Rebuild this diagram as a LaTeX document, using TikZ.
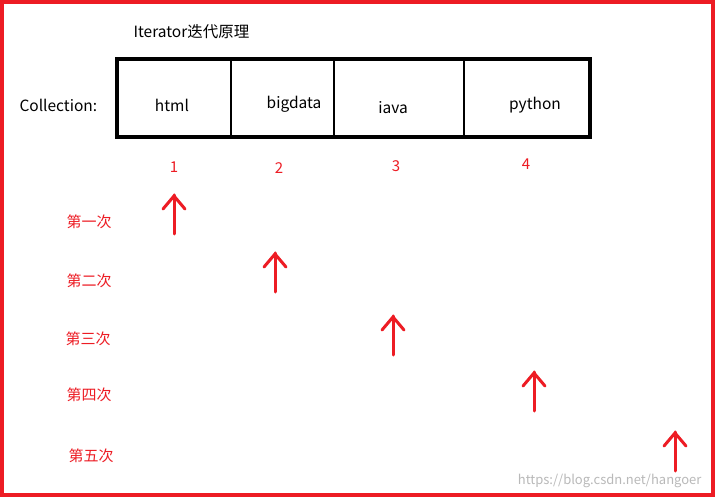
\documentclass[tikz,border=0pt]{standalone}
\usepackage{fontspec}
\setmainfont{Noto Sans CJK SC}
\definecolor{pred}{RGB}{237,28,36}
\begin{document}
\begin{tikzpicture}[x=1pt,y=-1pt,
  lbl/.style={font=\fontsize{15.5}{18}\selectfont},
  red lbl/.style={font=\fontsize{15}{18}\selectfont,text=pred},
  arr/.style={draw=pred,line width=3pt,line cap=round,line join=miter}]
\useasboundingbox (0,0) rectangle (715,497);
\fill[white] (0,0) rectangle (715,497);
\draw[pred,line width=3.5pt] (2,2) rectangle (713,495);
\node[lbl,anchor=west] (title) at (130,32) {Iterator迭代原理};
\node[lbl,anchor=west] (coll) at (16,105) {Collection:};
\draw[line width=3.5pt] (117,59) rectangle (590,137);
\foreach \x in {231,334,464} \draw[line width=1.5pt] (\x,59) -- (\x,137);
\node[lbl] (h) at (172,105) {html};
\node[lbl] (b) at (294,104) {bigdata};
\node[lbl] (j) at (393,108) {iava};
\node[lbl] (p) at (535,105) {python};
\node[red lbl] (n1) at (174,167) {1};
\node[red lbl] (n2) at (279,168) {2};
\node[red lbl] (n3) at (396,166) {3};
\node[red lbl] (n4) at (526,164) {4};
\node[red lbl] (t1) at (89,222) {第一次};
\node[red lbl] (t2) at (89,281) {第二次};
\node[red lbl] (t3) at (88,339) {第三次};
\node[red lbl] (t4) at (89,395) {第四次};
\node[red lbl] (t5) at (91,456) {第五次};
\foreach \x/\y in {174/195,275/253,393/316,534/372,675/432}{
  \draw[arr] (\x,\y+39) -- (\x,\y);
  \draw[arr] (\x-11,\y+14) -- (\x,\y+1) -- (\x+11,\y+14);
}
\node[font=\fontsize{13}{15}\selectfont,text=gray!55,anchor=east] (wm) at (705,481) {https://blog.csdn.net/hangoer};
\end{tikzpicture}
\end{document}
